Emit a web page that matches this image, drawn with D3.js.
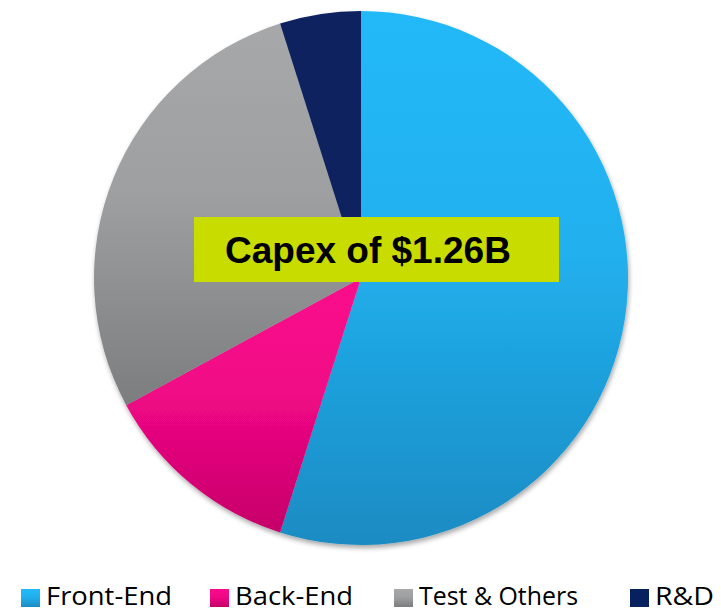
<!DOCTYPE html>
<html>
<head>
<meta charset="utf-8">
<script src="https://cdn.jsdelivr.net/npm/d3@7"></script>
<style>
  html, body { margin: 0; padding: 0; background: #ffffff; }
  svg { display: block; }
</style>
</head>
<body>
<svg id="chart" width="721" height="610"></svg>
<script>
// Capex split by area (percent of total)
const categories = ["Front-End", "Back-End", "Test & Others", "R&D"];
const shares = [54.9, 12.2, 28.0, 4.9];
const colorTop = ["#23b9f9", "#fb0a8c", "#a6a8aa", "#07215f"];
const colorBottom = ["#1b8bc3", "#c6006a", "#7c7d7f", "#07215f"];
const totalLabel = "Capex of $1.26B";

const W = 721, H = 610;
const cx = 361, cy = 278, radius = 267;

const svg = d3.select("#chart");
const defs = svg.append("defs");

// vertical gradients, one per category
categories.forEach((c, i) => {
  const g = defs.append("linearGradient")
    .attr("id", "grad" + i)
    .attr("x1", 0).attr("y1", 0).attr("x2", 0).attr("y2", 1);
  g.append("stop").attr("offset", "0%").attr("stop-color", colorTop[i]);
  g.append("stop").attr("offset", "45%").attr("stop-color", d3.interpolateRgb(colorTop[i], colorBottom[i])(0.2));
  g.append("stop").attr("offset", "100%").attr("stop-color", colorBottom[i]);
});

// soft shadow under the pie
const f = defs.append("filter").attr("id", "shadow")
  .attr("x", "-10%").attr("y", "-10%").attr("width", "120%").attr("height", "120%");
f.append("feGaussianBlur").attr("in", "SourceAlpha").attr("stdDeviation", 2.5).attr("result", "blur");
f.append("feOffset").attr("in", "blur").attr("dx", 1).attr("dy", 3).attr("result", "off");
f.append("feComponentTransfer").attr("in", "off").attr("result", "shade")
  .append("feFuncA").attr("type", "linear").attr("slope", 0.35);
const merge = f.append("feMerge");
merge.append("feMergeNode").attr("in", "shade");
merge.append("feMergeNode").attr("in", "SourceGraphic");

const pie = d3.pie().sort(null).value(d => d);
const arc = d3.arc().innerRadius(0).outerRadius(radius);

const g = svg.append("g")
  .attr("transform", `translate(${cx},${cy})`)
  .attr("filter", "url(#shadow)");

g.selectAll("path.slice")
  .data(pie(shares))
  .join("path")
  .attr("class", "slice")
  .attr("d", arc)
  .attr("fill", (d, i) => `url(#grad${i})`);

// total label box in the middle
const box = { x: 194, y: 217, w: 365, h: 65 };
svg.append("rect")
  .attr("x", box.x).attr("y", box.y)
  .attr("width", box.w).attr("height", box.h)
  .attr("fill", "#c8dc00");
svg.append("text")
  .attr("x", 225).attr("y", 263)
  .attr("font-family", "'Liberation Sans', Arial, sans-serif")
  .attr("font-weight", "bold")
  .attr("font-size", 37)
  .attr("fill", "#000")
  .text(totalLabel);

// legend row
const legendX = [21, 210, 394, 630];
const legendTextW = [126, 118, 159, 59];
const lg = svg.append("g");
categories.forEach((c, i) => {
  lg.append("rect")
    .attr("x", legendX[i]).attr("y", 589)
    .attr("width", 19).attr("height", 18)
    .attr("fill", `url(#grad${i})`);
  lg.append("text")
    .attr("x", legendX[i] + 25).attr("y", 605)
    .attr("font-family", "'Open Sans', 'Noto Sans', sans-serif")
    .attr("font-size", 25.5)
    .attr("fill", "#000")
    .attr("textLength", legendTextW[i])
    .attr("lengthAdjust", "spacingAndGlyphs")
    .text(c);
});
</script>
</body>
</html>
